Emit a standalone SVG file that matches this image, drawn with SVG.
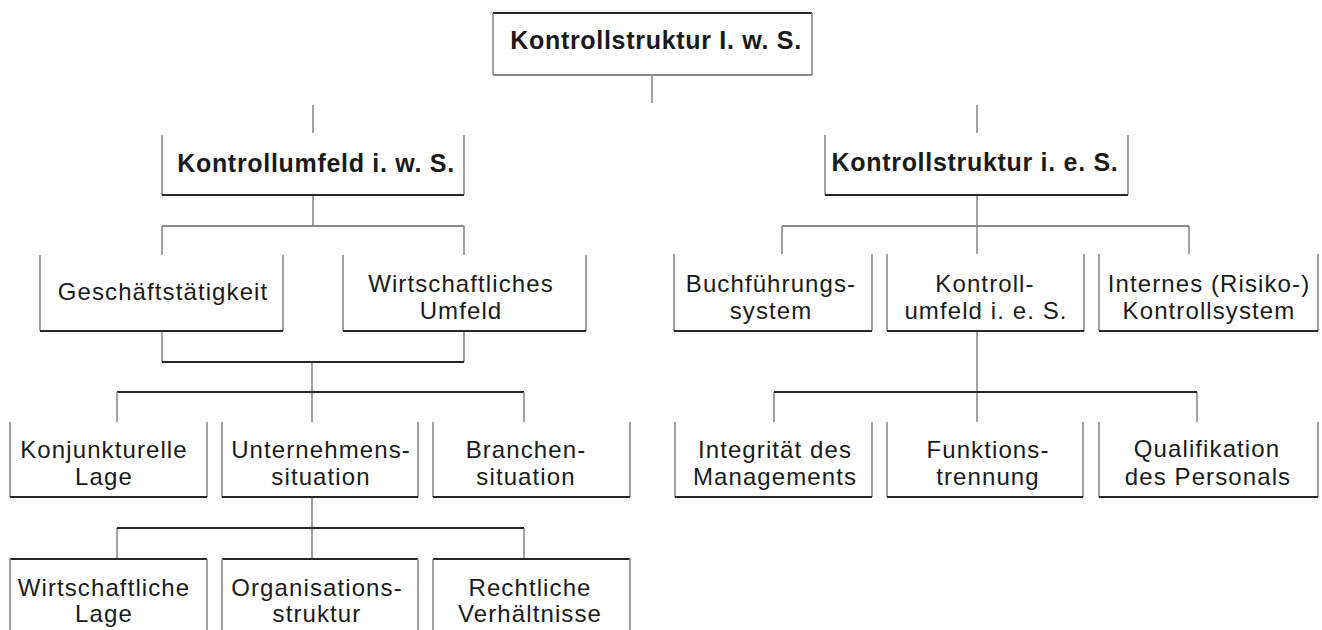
<svg xmlns="http://www.w3.org/2000/svg" width="1322" height="630" viewBox="0 0 1322 630">
  <style>
    .side { stroke: #8c8c8c; stroke-width: 1.6; fill: none; }
    .base { stroke: #262626; stroke-width: 2; fill: none; }
    .cap  { stroke: #262626; stroke-width: 2; fill: none; }
    .wire { stroke: #8c8c8c; stroke-width: 1.6; fill: none; }
    .bus  { stroke: #262626; stroke-width: 2; fill: none; }
    .bus-soft { stroke: #8a8a8a; stroke-width: 1.8; fill: none; }
    text { font-family: "Liberation Sans", Arial, sans-serif; fill: #1a1a1a; text-anchor: middle; }
    .t { font-size: 24px; letter-spacing: 1.1px; }
    .b { font-size: 25px; font-weight: bold; letter-spacing: 0.7px; }
  </style>
  <rect width="1322" height="630" fill="#ffffff"/>

  <!-- connectors -->
  <g id="connectors">
    <!-- root stub and level-2 stubs -->
    <path class="wire" d="M652 75 V103 M313 105 V133 M977 105 V133"/>
    <!-- Kontrollumfeld i. w. S. to its children -->
    <path class="wire" d="M313 195 V226 M162 226 V255 M464 226 V255"/>
    <path class="bus-soft" d="M162 226 H464"/>
    <!-- join below Geschäftstätigkeit / Wirtschaftliches Umfeld -->
    <path class="wire" d="M162 331 V362 M464 331 V362 M312 362 V422"/>
    <path class="bus" d="M162 362 H464"/>
    <!-- level-4 branch -->
    <path class="bus" d="M117 392 H524"/>
    <path class="wire" d="M117 392 V422 M524 392 V422"/>
    <!-- Unternehmenssituation to level 5 -->
    <path class="wire" d="M312 497 V559 M117 528 V559 M524 528 V559"/>
    <path class="bus" d="M117 528 H524"/>
    <!-- Kontrollstruktur i. e. S. to its children -->
    <path class="wire" d="M977 195 V254 M782 226 V254 M1189 226 V254"/>
    <path class="bus-soft" d="M782 226 H1189"/>
    <!-- Kontrollumfeld i. e. S. to its children -->
    <path class="wire" d="M977 331 V422 M774 392 V422 M1197 392 V422"/>
    <path class="bus" d="M774 392 H1197"/>
  </g>

  <!-- level 1 -->
  <g id="n-kontrollstruktur-iws">
    <path class="cap" d="M493 13 H812"/>
    <path class="side" d="M493 13 V75 M812 13 V75"/>
    <path class="bus-soft" d="M493 75 H812"/>
    <text class="b" x="656" y="49">Kontrollstruktur I. w. S.</text>
  </g>

  <!-- level 2 -->
  <g id="n-kontrollumfeld-iws">
    <path class="side" d="M162 135 V195 M464 135 V195"/>
    <path class="base" d="M162 195 H464"/>
    <text class="b" x="316" y="172">Kontrollumfeld i. w. S.</text>
  </g>
  <g id="n-kontrollstruktur-ies">
    <path class="side" d="M825 135 V195 M1128 135 V195"/>
    <path class="base" d="M825 195 H1128"/>
    <text class="b" x="975" y="171">Kontrollstruktur i. e. S.</text>
  </g>

  <!-- level 3, left -->
  <g id="n-geschaeftstaetigkeit">
    <path class="side" d="M40 255 V331 M283 255 V331"/>
    <path class="base" d="M40 331 H283"/>
    <text class="t" x="163" y="300">Geschäftstätigkeit</text>
  </g>
  <g id="n-wirtschaftliches-umfeld">
    <path class="side" d="M343 255 V331 M586 255 V331"/>
    <path class="base" d="M343 331 H586"/>
    <text class="t" x="461" y="292">Wirtschaftliches</text>
    <text class="t" x="461" y="319">Umfeld</text>
  </g>

  <!-- level 3, right -->
  <g id="n-buchfuehrungssystem">
    <path class="side" d="M674 254 V331 M872 254 V331"/>
    <path class="base" d="M674 331 H872"/>
    <text class="t" x="771" y="292">Buchführungs-</text>
    <text class="t" x="771" y="319">system</text>
  </g>
  <g id="n-kontrollumfeld-ies">
    <path class="side" d="M887 254 V331 M1084 254 V331"/>
    <path class="base" d="M887 331 H1084"/>
    <text class="t" x="985" y="292">Kontroll-</text>
    <text class="t" x="986" y="319">umfeld i. e. S.</text>
  </g>
  <g id="n-internes-kontrollsystem">
    <path class="side" d="M1099 254 V331 M1318 254 V331"/>
    <path class="base" d="M1099 331 H1318"/>
    <text class="t" x="1209" y="292">Internes (Risiko-)</text>
    <text class="t" x="1209" y="319">Kontrollsystem</text>
  </g>

  <!-- level 4, left -->
  <g id="n-konjunkturelle-lage">
    <path class="side" d="M10 422 V497 M207 422 V497"/>
    <path class="base" d="M10 497 H207"/>
    <text class="t" x="104" y="458">Konjunkturelle</text>
    <text class="t" x="104" y="485">Lage</text>
  </g>
  <g id="n-unternehmenssituation">
    <path class="side" d="M222 422 V497 M418 422 V497"/>
    <path class="base" d="M222 497 H418"/>
    <text class="t" x="321" y="458">Unternehmens-</text>
    <text class="t" x="321" y="485">situation</text>
  </g>
  <g id="n-branchensituation">
    <path class="side" d="M433 422 V497 M630 422 V497"/>
    <path class="base" d="M433 497 H630"/>
    <text class="t" x="526" y="458">Branchen-</text>
    <text class="t" x="526" y="485">situation</text>
  </g>

  <!-- level 4, right -->
  <g id="n-integritaet">
    <path class="side" d="M675 422 V497 M872 422 V497"/>
    <path class="base" d="M675 497 H872"/>
    <text class="t" x="775" y="458">Integrität des</text>
    <text class="t" x="775" y="485">Managements</text>
  </g>
  <g id="n-funktionstrennung">
    <path class="side" d="M887 422 V497 M1083 422 V497"/>
    <path class="base" d="M887 497 H1083"/>
    <text class="t" x="988" y="458">Funktions-</text>
    <text class="t" x="988" y="485">trennung</text>
  </g>
  <g id="n-qualifikation">
    <path class="side" d="M1099 422 V497 M1318 422 V497"/>
    <path class="base" d="M1099 497 H1318"/>
    <text class="t" x="1207" y="457">Qualifikation</text>
    <text class="t" x="1208" y="485">des Personals</text>
  </g>

  <!-- level 5 -->
  <g id="n-wirtschaftliche-lage">
    <path class="cap" d="M10 559 H207"/>
    <path class="side" d="M10 559 V631 M207 559 V631"/>
    <text class="t" x="104" y="596">Wirtschaftliche</text>
    <text class="t" x="104" y="622">Lage</text>
  </g>
  <g id="n-organisationsstruktur">
    <path class="cap" d="M222 559 H418"/>
    <path class="side" d="M222 559 V631 M418 559 V631"/>
    <text class="t" x="317" y="596">Organisations-</text>
    <text class="t" x="317" y="622">struktur</text>
  </g>
  <g id="n-rechtliche-verhaeltnisse">
    <path class="cap" d="M433 559 H630"/>
    <path class="side" d="M433 559 V631 M630 559 V631"/>
    <text class="t" x="530" y="596">Rechtliche</text>
    <text class="t" x="530" y="622">Verhältnisse</text>
  </g>
</svg>
